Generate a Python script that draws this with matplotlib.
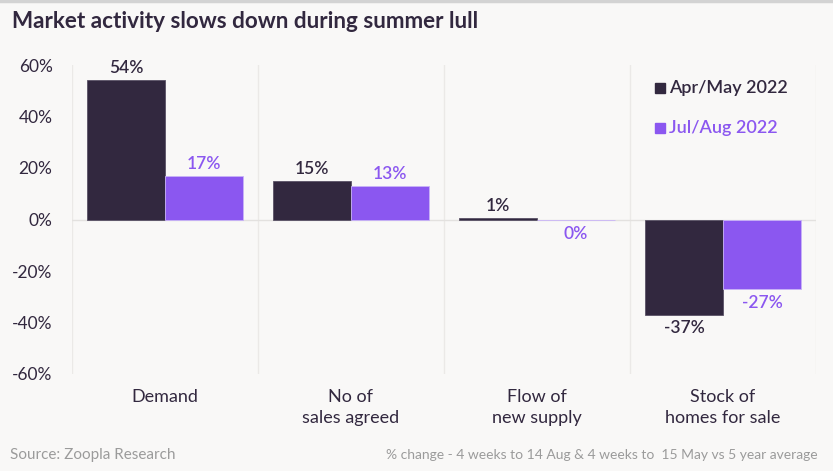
import matplotlib.pyplot as plt
import matplotlib.patches as mpatches
import numpy as np

# data
categories = ["Demand", "No of\nsales agreed", "Flow of\nnew supply", "Stock of\nhomes for sale"]
apr_may = [54, 15, 0.6, -37]
jul_aug = [17, 13, -0.2, -27]
apr_may_labels = ["54%", "15%", "1%", "-37%"]
jul_aug_labels = ["17%", "13%", "0%", "-27%"]
yticks = [60, 40, 20, 0, -20, -40, -60]

dark = "#32283f"
purple = "#8b57f0"
bg = "#f9f8f7"
grey_text = "#9b9b9b"

plt.rcParams['font.family'] = ['Lato', 'DejaVu Sans']

fig = plt.figure(figsize=(8.33, 4.71), dpi=100, facecolor=bg)
ax = fig.add_axes([72 / 833, 1 - 374 / 471, 744 / 833, 309 / 471])
ax.set_facecolor(bg)

x = np.arange(len(categories))
w = 78 / 186
ax.bar(x - w / 2, apr_may, w, color=dark, edgecolor="#5a5266", linewidth=0.6, zorder=3)
ax.bar(x + w / 2, jul_aug, w, color=purple, edgecolor="#c9b4f7", linewidth=0.6, zorder=3)

for i in range(len(categories)):
    for val, lab, off, col in [(apr_may[i], apr_may_labels[i], -w / 2, dark),
                               (jul_aug[i], jul_aug_labels[i], w / 2, purple)]:
        if val >= 0:
            ax.annotate(lab, (x[i] + off, val), xytext=(0, 3), textcoords="offset points",
                        ha="center", va="bottom", fontsize=12.5, fontweight="semibold", color=col)
        else:
            ax.annotate(lab, (x[i] + off, val), xytext=(0, -4), textcoords="offset points",
                        ha="center", va="top", fontsize=12.5, fontweight="semibold", color=col)

ax.set_xlim(-0.5, len(categories) - 0.5)
ax.set_ylim(-60, 60)
ax.set_yticks(yticks)
ax.set_yticklabels([f"{t}%" for t in yticks], fontsize=12.5, color=dark)
ax.tick_params(axis="y", length=0, pad=14)
ax.set_xticks(x)
ax.set_xticklabels(categories, fontsize=13, color=dark, linespacing=1.35)
ax.tick_params(axis="x", length=0, pad=11)

for b in np.arange(-0.5, len(categories), 1):
    ax.axvline(b, color="#ebe9e7", linewidth=1, zorder=1)
ax.axhline(0, color="#e3e1df", linewidth=1, zorder=2)
for s in ax.spines.values():
    s.set_visible(False)

# legend: small squares plus coloured text
for ypix, label, col in [(88, "Apr/May 2022", dark), (128, "Jul/Aug 2022", purple)]:
    fig.add_artist(mpatches.Rectangle((655 / 833, 1 - (ypix + 5) / 471), 10 / 833, 10 / 471,
                                      transform=fig.transFigure, color=col))
    fig.text(669 / 833, 1 - ypix / 471, label, fontsize=13, fontweight="semibold",
             color=col, va="center", ha="left")

fig.text(12 / 833, 1 - 22 / 471, "Market activity slows down during summer lull",
         fontsize=16.2, fontweight="bold", color=dark, va="center", ha="left")
fig.text(10 / 833, 1 - 455 / 471, "Source: Zoopla Research", fontsize=11, color=grey_text,
         va="center", ha="left")
fig.text(818 / 833, 1 - 455 / 471,
         "% change - 4 weeks to 14 Aug & 4 weeks to  15 May vs 5 year average",
         fontsize=10, color=grey_text, va="center", ha="right")

fig.add_artist(plt.Line2D([0, 1], [1 - 1 / 471, 1 - 1 / 471], color="#d3d3d3", linewidth=2.5))

fig.savefig("out.png", dpi=100, facecolor=bg)
